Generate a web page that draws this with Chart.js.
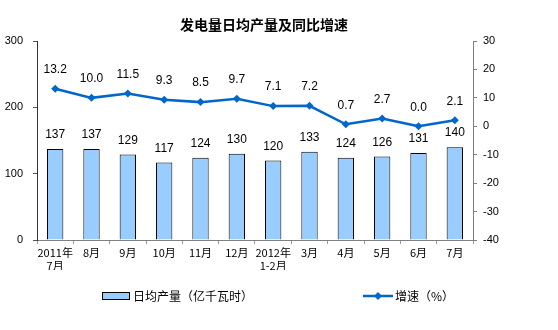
<!DOCTYPE html>
<html>
<head>
<meta charset="utf-8">
<script src="https://cdn.jsdelivr.net/npm/chart.js@4"></script>
<style>
  body { margin: 0; background: #fff; }
  #wrap { width: 558px; height: 330px; }
</style>
</head>
<body>
<div id="wrap"><canvas id="myChart" width="558" height="330"></canvas></div>
<script>
const months = [['2011年', '7月'], '8月', '9月', '10月', '11月', '12月', ['2012年', '1-2月'], '3月', '4月', '5月', '6月', '7月'];
const dailyOutput = [137, 137, 129, 117, 124, 130, 120, 133, 124, 126, 131, 140];
const growthRate = [13.2, 10.0, 11.5, 9.3, 8.5, 9.7, 7.1, 7.2, 0.7, 2.7, 0.0, 2.1];
const leftTicks = [0, 100, 200, 300];
const rightTicks = [-40, -30, -20, -10, 0, 10, 20, 30];

const titleText = '发电量日均产量及同比增速';
const barLegend = '日均产量（亿千瓦时）';
const lineLegend = '增速（%）';

const FONT = '"Liberation Sans", Arial, "Noto Sans CJK SC", sans-serif';
const CJK = '"Noto Sans CJK SC", sans-serif';

// value labels, title and legend drawn on top
const extras = {
    id: 'extras',
    afterDatasetsDraw(chart) {
        const ctx = chart.ctx;
        ctx.save();
        ctx.fillStyle = '#000';
        ctx.font = '12px ' + FONT;
        ctx.textAlign = 'center';
        ctx.textBaseline = 'middle';
        chart.getDatasetMeta(0).data.forEach((bar, i) => {
            ctx.fillText(String(dailyOutput[i]), bar.x, bar.y - 14);
        });
        chart.getDatasetMeta(1).data.forEach((pt, i) => {
            ctx.fillText(growthRate[i].toFixed(1), pt.x, pt.y - 19);
        });

        // title
        ctx.font = 'bold 14px ' + CJK;
        ctx.fillText(titleText, 264, 25);

        // legend
        const ly = 296;
        ctx.fillStyle = '#99CCFF';
        ctx.fillRect(102, ly - 4, 28, 8);
        ctx.strokeStyle = '#000';
        ctx.lineWidth = 1;
        ctx.strokeRect(102.5, ly - 3.5, 27, 7);
        ctx.fillStyle = '#000';
        ctx.font = '12px ' + CJK;
        ctx.textAlign = 'left';
        ctx.fillText(barLegend, 133, ly);

        ctx.strokeStyle = '#0066CC';
        ctx.lineWidth = 2.5;
        ctx.beginPath();
        ctx.moveTo(363, ly);
        ctx.lineTo(393, ly);
        ctx.stroke();
        ctx.fillStyle = '#0066CC';
        ctx.beginPath();
        ctx.moveTo(378, ly - 4);
        ctx.lineTo(382, ly);
        ctx.lineTo(378, ly + 4);
        ctx.lineTo(374, ly);
        ctx.closePath();
        ctx.fill();
        ctx.fillStyle = '#000';
        ctx.fillText(lineLegend, 395, ly);
        ctx.restore();
    }
};

const ctx = document.getElementById('myChart').getContext('2d');
new Chart(ctx, {
    data: {
        labels: months,
        datasets: [{
            type: 'bar',
            label: barLegend,
            data: dailyOutput,
            backgroundColor: '#99CCFF',
            borderColor: '#000',
            borderWidth: 1,
            barPercentage: 0.45,
            categoryPercentage: 1,
            yAxisID: 'y',
            order: 2
        }, {
            type: 'line',
            label: lineLegend,
            data: growthRate,
            borderColor: '#0066CC',
            backgroundColor: '#0066CC',
            borderWidth: 2.5,
            pointStyle: 'rectRot',
            pointRadius: 4,
            pointBorderWidth: 0,
            tension: 0,
            yAxisID: 'y1',
            order: 1
        }]
    },
    options: {
        responsive: false,
        animation: false,
        layout: { padding: { top: 41, left: 0, right: 0, bottom: 60 } },
        plugins: {
            legend: { display: false },
            title: { display: false },
            tooltip: { enabled: false }
        },
        scales: {
            x: {
                offset: true,
                grid: { display: true, drawOnChartArea: false, offset: true, tickLength: 4, color: '#999' },
                border: { color: '#808080' },
                ticks: { color: '#000', font: { size: 11, family: CJK }, maxRotation: 0, autoSkip: false, padding: 2 },
                afterFit: (s) => { s.height = 30; }
            },
            y: {
                position: 'left',
                min: 0, max: 300,
                afterBuildTicks: (s) => { s.ticks = leftTicks.map(v => ({ value: v })); },
                grid: { drawOnChartArea: false, tickLength: 4, color: '#555' },
                border: { color: '#333' },
                ticks: { color: '#000', font: { size: 11, family: FONT }, padding: 10 },
                afterFit: (s) => { s.width = 37; }
            },
            y1: {
                position: 'right',
                min: -40, max: 30,
                afterBuildTicks: (s) => { s.ticks = rightTicks.map(v => ({ value: v })); },
                grid: { drawOnChartArea: false, tickLength: 4, color: '#808080' },
                border: { color: '#808080' },
                ticks: { color: '#000', font: { size: 11, family: FONT }, padding: 6 },
                afterFit: (s) => { s.width = 85; }
            }
        }
    },
    plugins: [extras]
});
</script>
</body>
</html>
